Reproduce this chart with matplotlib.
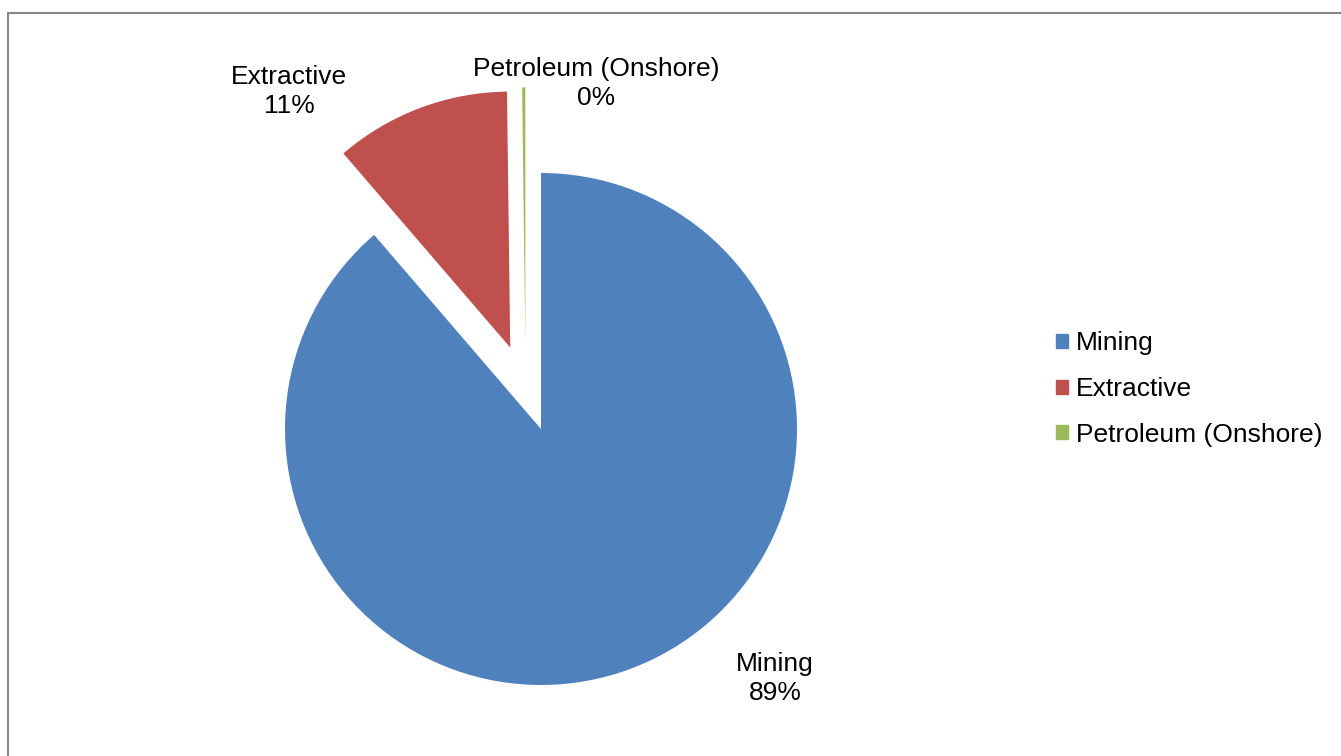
import numpy as np
import matplotlib
matplotlib.use('Agg')
import matplotlib.pyplot as plt
from matplotlib.patches import Rectangle

# data
sectors = ['Mining', 'Extractive', 'Petroleum (Onshore)']
shares = [88.7, 11.1, 0.2]
colors = ['#4F81BD', '#C0504D', '#9BBB59']
explode = [0.0, 0.34, 0.34]

plt.rcParams['font.family'] = ['Liberation Sans', 'DejaVu Sans']

W, H = 1341, 756
fig = plt.figure(figsize=(W / 100, H / 100), dpi=100)

# grey chart border (right and bottom edges fall outside the picture)
fig.patches.append(Rectangle((7.5 / W, -0.1), 1.2, 1.1 - 12.5 / H, transform=fig.transFigure,
                             fill=False, edgecolor='#868686', linewidth=1.5))

# pie: centre (541, 429) px, radius 256 px
cx, cy, r = 541, 429, 256
ax = fig.add_axes([(cx - r) / W, (H - cy - r) / H, 2 * r / W, 2 * r / H])
wedges, _ = ax.pie(shares, colors=colors, explode=explode, startangle=90,
                   counterclock=False, wedgeprops=dict(linewidth=0))
ax.set_xlim(-1, 1)
ax.set_ylim(-1, 1)
ax.set_aspect('equal')
ax.axis('off')
for w in wedges:
    w.set_clip_on(False)

# the tiny slice is pushed out a little to the left, like in the original
c = np.array(wedges[2].center)
a = np.deg2rad(10)
wedges[2].set_center((c[0] * np.cos(a) - c[1] * np.sin(a), c[0] * np.sin(a) + c[1] * np.cos(a)))

# data labels
label_pos = [(0.914, -0.975), (-0.984, 1.318), (0.215, 1.35)]
for name, v, (x, y) in zip(sectors, shares, label_pos):
    ax.text(x, y, f'{name}\n{v:.0f}%', ha='center', va='center', fontsize=19,
            linespacing=1.3, clip_on=False)

handles = [plt.Rectangle((0, 0), 1, 1, color=c) for c in colors]
fig.legend(handles, sectors, loc='center left', bbox_to_anchor=(1056 / W, 1 - 389 / H),
           frameon=False, fontsize=19, handlelength=0.45, handleheight=0.45,
           handletextpad=0.3, labelspacing=0.82, borderpad=0, borderaxespad=0)

fig.savefig('out.png', dpi=100)
